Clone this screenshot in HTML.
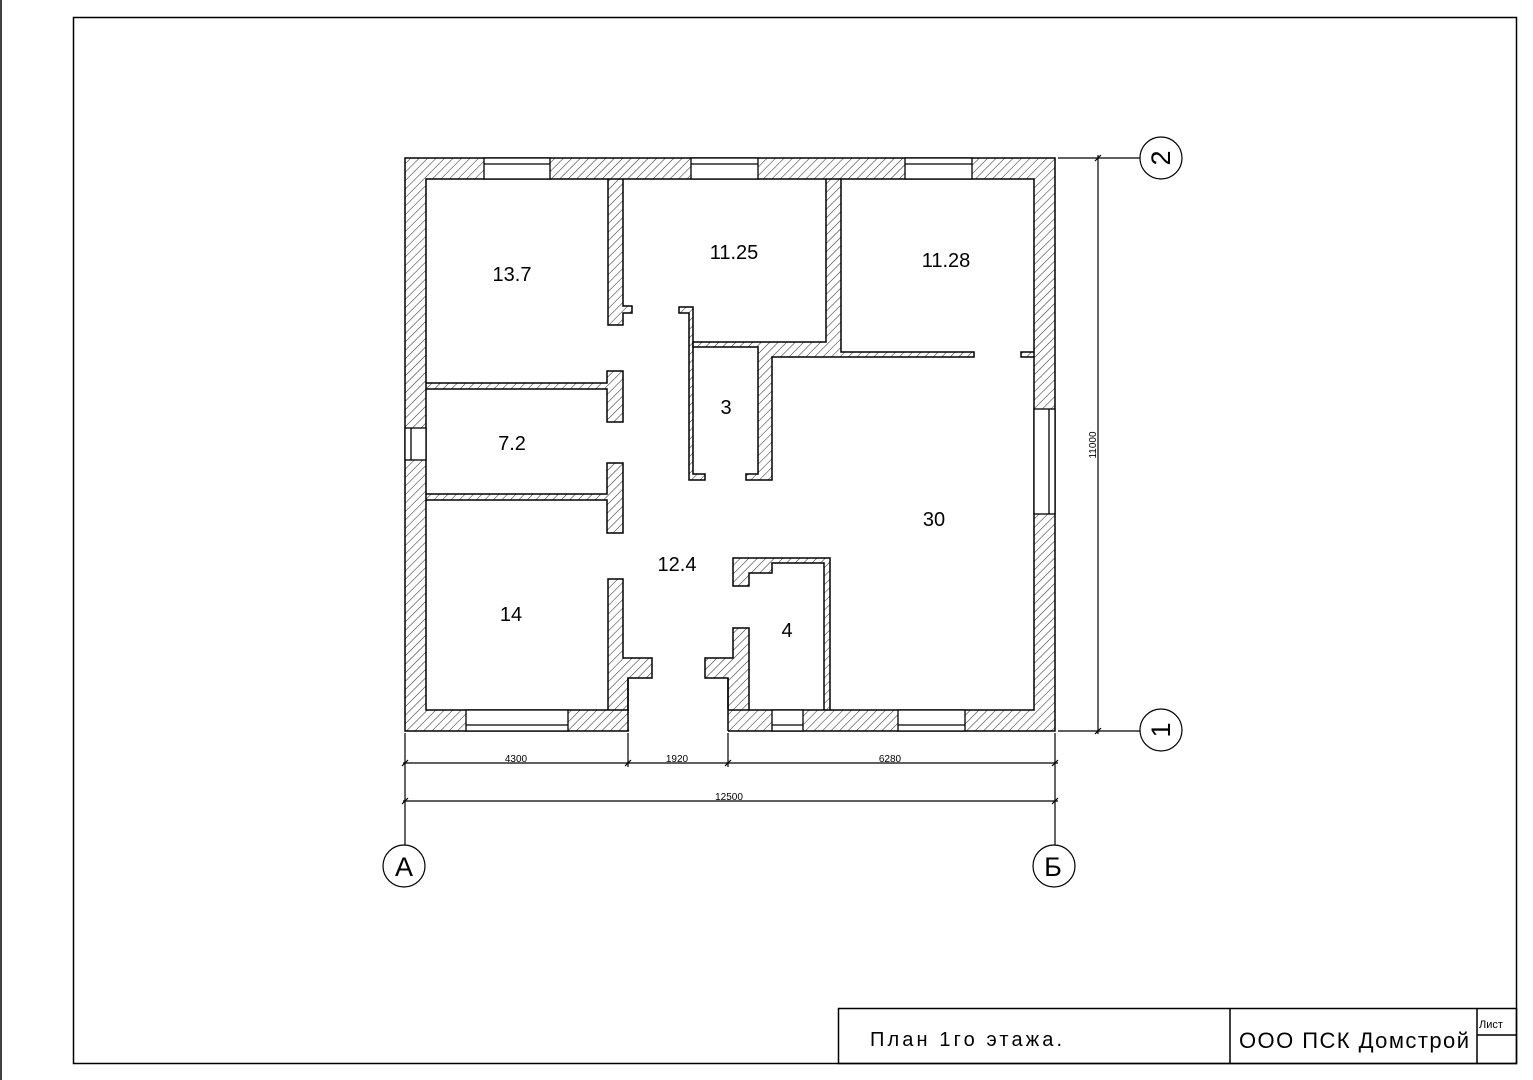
<!DOCTYPE html>
<html><head><meta charset="utf-8"><style>
html,body{margin:0;padding:0;background:#fff;}
svg{display:block;}
text{font-family:"Liberation Sans",sans-serif;fill:#000;}
</style></head><body>
<svg width="1533" height="1080" viewBox="0 0 1533 1080" xmlns="http://www.w3.org/2000/svg">
<defs>
<pattern id="h" patternUnits="userSpaceOnUse" width="6" height="6" patternTransform="rotate(45)">
<rect width="6" height="6" fill="#fff"/>
<line x1="0" y1="0" x2="0" y2="6" stroke="#333" stroke-width="1.1"/>
</pattern>
</defs>
<rect width="1533" height="1080" fill="#fff"/>
<line x1="1" y1="0" x2="1" y2="1080" stroke="#000" stroke-width="1.5"/>
<rect x="73.5" y="17.5" width="1443" height="1046" fill="none" stroke="#000" stroke-width="1.5"/>

<g stroke="#000" stroke-width="1.5" fill="url(#h)">
<polygon points="608,175 623,175 623,306 632,306 632,313 623,313 623,325 608,325"/>
<polygon points="422,383 607,383 607,371 623,371 623,422 607,422 607,389 422,389"/>
<polygon points="422,494 607,494 607,463 623,463 623,533 607,533 607,500 422,500"/>
<polygon points="679,307 693,307 693,474 705,474 705,480 689,480 689,313 679,313"/>
<polygon points="693,342 826,342 826,175 841,175 841,352 974,352 974,357 772,357 772,480 746,480 746,474 758,474 758,347 693,347"/>
<polygon points="1021,352 1038,352 1038,357 1021,357"/>
<polygon points="608,579 623,579 623,658 652,658 652,678 628,678 628,730 608,730"/>
<polygon points="733,628 749,628 749,730 728,730 728,678 705,678 705,658 733,658"/>
<polygon points="733,558 830,558 830,714 824,714 824,563 772,563 772,573 749,573 749,586 733,586"/>
<path fill-rule="evenodd" d="M405,158 H1055 V731 H405 Z M426,179 V710 H1034 V179 Z"/>
</g>
<rect x="629" y="709" width="99" height="24" fill="#fff"/>
<g stroke="#000" stroke-width="1.5">
<line x1="628" y1="678" x2="628" y2="731"/>
<line x1="728" y1="678" x2="728" y2="731"/>
</g>
<g stroke="#000" stroke-width="1.3" fill="#fff">
<rect x="484" y="158" width="66" height="21"/><line x1="484" y1="164" x2="550" y2="164"/>
<rect x="691" y="158" width="67" height="21"/><line x1="691" y1="164" x2="758" y2="164"/>
<rect x="905" y="158" width="67" height="21"/><line x1="905" y1="164" x2="972" y2="164"/>
<rect x="466" y="710" width="102" height="21"/><line x1="466" y1="725" x2="568" y2="725"/>
<rect x="772" y="710" width="31" height="21"/><line x1="772" y1="725" x2="803" y2="725"/>
<rect x="898" y="710" width="67" height="21"/><line x1="898" y1="725" x2="965" y2="725"/>
<rect x="405" y="428" width="21" height="32"/><line x1="411" y1="428" x2="411" y2="460"/>
<rect x="1034" y="409" width="21" height="105"/><line x1="1049" y1="409" x2="1049" y2="514"/>
</g>
<g font-size="20" text-anchor="middle">
<text x="512" y="281">13.7</text>
<text x="734" y="259">11.25</text>
<text x="946" y="267">11.28</text>
<text x="726" y="414">3</text>
<text x="512" y="450">7.2</text>
<text x="934" y="526">30</text>
<text x="677" y="571">12.4</text>
<text x="511" y="621">14</text>
<text x="787" y="637">4</text>
</g>
<g stroke="#000" stroke-width="1.2" fill="none">
<line x1="405" y1="733" x2="405" y2="845"/>
<line x1="1055" y1="733" x2="1055" y2="845"/>
<line x1="628" y1="733" x2="628" y2="767"/>
<line x1="728" y1="733" x2="728" y2="767"/>
<line x1="403" y1="763" x2="1058" y2="763"/>
<line x1="403" y1="801" x2="1058" y2="801"/>
<line x1="1058" y1="158" x2="1140" y2="158"/>
<line x1="1058" y1="731" x2="1140" y2="731"/>
<line x1="1098" y1="155" x2="1098" y2="734"/>
<circle cx="404" cy="866" r="21"/>
<circle cx="1054" cy="866" r="21"/>
<circle cx="1161" cy="158" r="21"/>
<circle cx="1161" cy="730" r="21"/>
<line x1="402" y1="766" x2="408" y2="760"/><line x1="625" y1="766" x2="631" y2="760"/>
<line x1="725" y1="766" x2="731" y2="760"/><line x1="1052" y1="766" x2="1058" y2="760"/>
<line x1="402" y1="804" x2="408" y2="798"/><line x1="1052" y1="804" x2="1058" y2="798"/>
<line x1="1095" y1="161" x2="1101" y2="155"/><line x1="1095" y1="734" x2="1101" y2="728"/>
</g>
<g font-size="10" text-anchor="middle">
<text x="516" y="762">4300</text>
<text x="677" y="762">1920</text>
<text x="890" y="762">6280</text>
<text x="729" y="800">12500</text>
<text x="0" y="0" transform="translate(1096,445) rotate(-90)">11000</text>
</g>
<g font-size="27" text-anchor="middle">
<text x="404" y="876">А</text>
<text x="1053" y="876">Б</text>
<text transform="translate(1170,158) rotate(-90)" x="0" y="0">2</text>
<text transform="translate(1170,730) rotate(-90)" x="0" y="0">1</text>
</g>
<g stroke="#000" stroke-width="1.5" fill="none">
<rect x="838.5" y="1008.5" width="678" height="55"/>
<line x1="1230" y1="1008" x2="1230" y2="1063"/>
<line x1="1477" y1="1008" x2="1477" y2="1063"/>
<line x1="1477" y1="1035" x2="1516" y2="1035"/>
</g>
<text x="870" y="1046" font-size="20" textLength="192" lengthAdjust="spacing">План 1го этажа.</text>
<text x="1239" y="1048" font-size="22" textLength="230" lengthAdjust="spacing">ООО ПСК Домстрой</text>
<text x="1479" y="1028" font-size="11">Лист</text>
</svg>
</body></html>
